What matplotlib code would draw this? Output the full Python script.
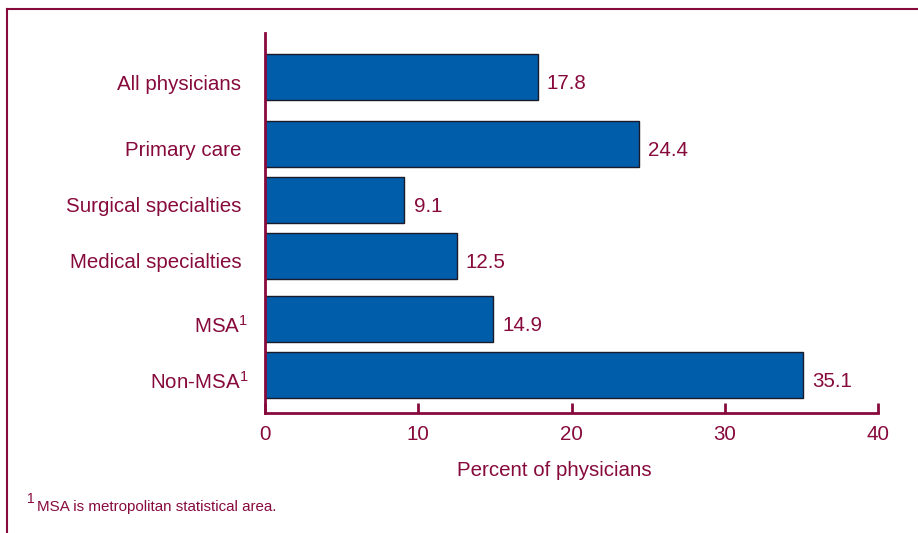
import matplotlib
matplotlib.use("Agg")
import matplotlib.pyplot as plt
import matplotlib.transforms as mtransforms
from matplotlib.lines import Line2D

categories = ["All physicians", "Primary care", "Surgical specialties",
              "Medical specialties", "MSA$^{\\mathrm{1}}$", "Non-MSA$^{\\mathrm{1}}$"]
values = [17.8, 24.4, 9.1, 12.5, 14.9, 35.1]
xticks = [0, 10, 20, 30, 40]
xlabel = "Percent of physicians"
footnote = "MSA is metropolitan statistical area."

# layout (vertical positions of bars, in pixel-like units from top)
ypos = [77, 144, 200, 256, 319, 375]

TXT = "#870A3C"
BAR = "#005DAA"
FS = 14.8

plt.rcParams['font.family'] = ['Liberation Sans', 'DejaVu Sans']
plt.rcParams['mathtext.fontset'] = 'custom'
plt.rcParams['mathtext.rm'] = 'Liberation Sans'
plt.rcParams['mathtext.it'] = 'Liberation Sans'

W, H = 918, 533
fig = plt.figure(figsize=(W/100, H/100), dpi=100)
ax = fig.add_axes([265/W, 1-413/H, (878-265)/W, (413-33)/H])

ax.barh(ypos, values, height=46, color=BAR, edgecolor="#1a1a2a", linewidth=1.0)
ax.set_ylim(413, 33)
ax.set_xlim(0, 40)

for y, v in zip(ypos, values):
    ax.text(v + 0.6, y + 6.5, f"{v:.1f}", color=TXT, fontsize=FS, va="center", ha="left")

ax.set_yticks(ypos)
ax.set_yticklabels(categories)
ax.set_xticks(xticks)
ax.set_xticklabels([str(t) for t in xticks])
ax.tick_params(axis="y", length=0, pad=17, labelsize=FS, labelcolor=TXT)
ax.tick_params(axis="x", direction="in", length=7, width=2, color=TXT, pad=9,
               labelsize=FS, labelcolor=TXT)
for lab in ax.get_yticklabels():
    dx = 7/100 if "$" in lab.get_text() else 0
    off = mtransforms.ScaledTranslation(dx, -5/100, fig.dpi_scale_trans)
    lab.set_transform(lab.get_transform() + off)
for s in ["top", "right"]:
    ax.spines[s].set_visible(False)
for s in ["left", "bottom"]:
    ax.spines[s].set_color(TXT)
    ax.spines[s].set_linewidth(2)

fig.text(554/W, 1-471/H, xlabel, color=TXT, fontsize=FS, ha="center", va="center")
fig.text(37/W, 1-507/H, footnote, color=TXT, fontsize=10.9, ha="left", va="center")
fig.text(27/W, 1-499/H, "1", color=TXT, fontsize=10, ha="left", va="center")

fig.add_artist(Line2D([7/W, 7/W], [0, 1-9/H], transform=fig.transFigure, color=TXT, lw=1.5))
fig.add_artist(Line2D([7/W, 1], [1-9/H, 1-9/H], transform=fig.transFigure, color=TXT, lw=1.5))

fig.savefig("out.png", dpi=100)
